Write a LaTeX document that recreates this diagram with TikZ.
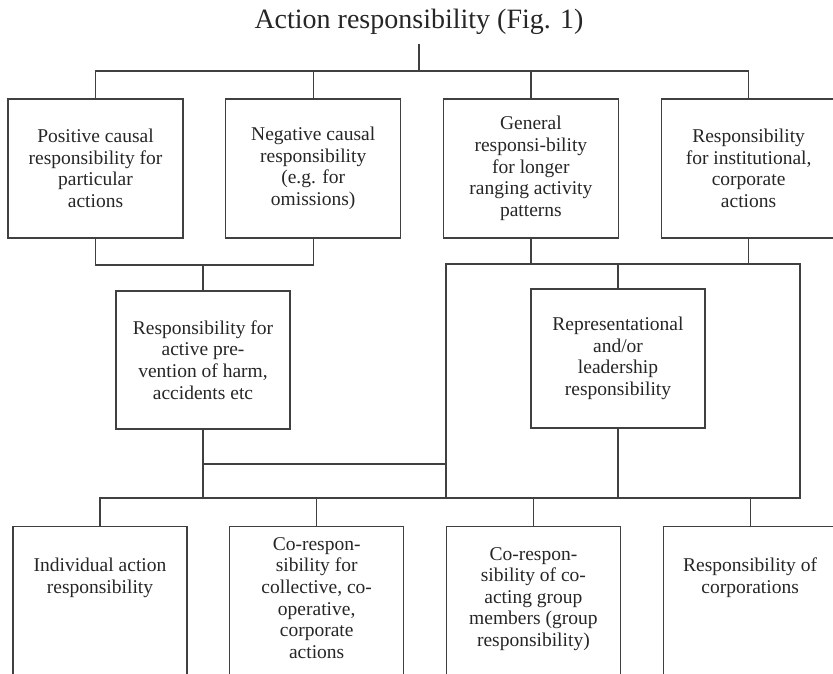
\documentclass[tikz,border=0pt]{standalone}
\usepackage{fontspec}
\setmainfont{Liberation Serif}
\usetikzlibrary{positioning}

\begin{document}
\begin{tikzpicture}[
  x=1pt, y=-1pt,
  font=\fontsize{19.5}{21.6}\selectfont,
  box/.style={rectangle, draw=black!75, line width=1.2pt, minimum width=175pt,
              minimum height=139pt, align=center, inner sep=4pt, text=black!85},
  openbox/.style={rectangle, draw=black!75, line width=1.2pt, minimum width=174pt,
              minimum height=170pt, anchor=north},
  txt/.style={align=center, text=black!85, inner sep=0pt},
  ln/.style={draw=black!75, line width=1.2pt}
]
\useasboundingbox (0,0) rectangle (833,673);
\clip (0,0) rectangle (833,673);

% --- Title ---
\node[font=\fontsize{28}{32}\selectfont, text=black!85, inner ysep=9pt] (title) at (419,22)
  {Action responsibility (Fig. 1)};

% --- Junction points ---
\coordinate (tbus)  at (420,71);
\coordinate (ljoin) at (203,265);
\coordinate (rtop)  at (446,264);
\coordinate (rbot)  at (800,498);
\coordinate (mjoin) at (446,464);

% --- Top row ---
\node[box] (pos) at (95.5,168.5) {Positive causal\\responsibility for\\particular\\actions};
\node[box, right=41.5pt of pos]  (neg)  {Negative causal\\responsibility\\(e.g. for\\omissions)};
\node[box, right=41.5pt of neg]  (gen)  {General\\responsi-bility\\for longer\\ranging activity\\patterns};
\node[box, right=41.5pt of gen]  (inst) {Responsibility\\for institutional,\\corporate\\actions};

% --- Middle row ---
\node[box, minimum width=174pt, minimum height=138pt] (prev) at (203,360)
  {Responsibility for\\active pre-\\vention of harm,\\accidents etc};
\node[box, minimum width=174pt] (repr) at (618,358.5)
  {Representational\\and/or\\leadership\\responsibility};

% --- Bottom row (cut off by the page) ---
\node[openbox] (indiv) at (100,526) {};
\node[openbox, right=41.5pt of indiv] (coll)  {};
\node[openbox, right=41.5pt of coll]  (group) {};
\node[openbox, right=41.5pt of group] (corp)  {};

\node[txt] (indiv-t) at ([yshift=-52pt]indiv.north) {Individual action\\responsibility};
\node[txt] (coll-t)  at ([yshift=-72pt]coll.north)  {Co-respon-\\sibility for\\collective, co-\\operative,\\corporate\\actions};
\node[txt] (group-t) at ([yshift=-73pt]group.north) {Co-respon-\\sibility of co-\\acting group\\members (group\\responsibility)};
\node[txt] (corp-t)  at ([yshift=-52pt]corp.north)  {Responsibility of\\corporations};

% --- Lines ---
\draw[ln] (title.south) -- (title.south |- tbus);
\draw[ln] (pos.north) |- (inst.north |- tbus) -- (inst.north);
\draw[ln] (neg.north) -- (neg.north |- tbus);
\draw[ln] (gen.north) -- (gen.north |- tbus);

\draw[ln] (pos.south) |- (neg.south |- ljoin) -- (neg.south);
\draw[ln] (prev.north) -- (prev.north |- ljoin);
\draw[ln] (prev.south) -- (prev.south |- rbot);
\draw[ln] (prev.south |- mjoin) -- (mjoin);

\draw[ln] (rtop) rectangle (rbot);
\draw[ln] (gen.south)  -- (gen.south |- rtop);
\draw[ln] (inst.south) -- (inst.south |- rtop);
\draw[ln] (repr.north) -- (repr.north |- rtop);
\draw[ln] (repr.south) -- (repr.south |- rbot);

\draw[ln] (indiv.north) |- (rbot);
\draw[ln] (coll.north)  -- (coll.north |- rbot);
\draw[ln] (group.north) -- (group.north |- rbot);
\draw[ln] (corp.north)  -- (corp.north |- rbot);

\end{tikzpicture}
\end{document}
